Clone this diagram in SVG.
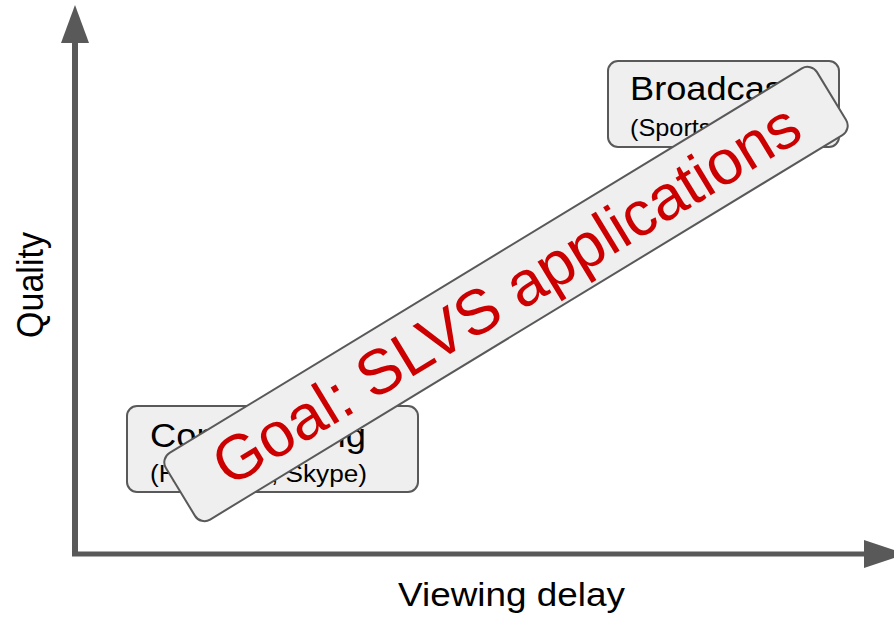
<svg xmlns="http://www.w3.org/2000/svg" width="894" height="617" viewBox="0 0 894 617">
<style>
.box{fill:#efefef;stroke:#595959;stroke-width:2}
.axis{stroke:#595959;fill:none}
.head{fill:#595959}
text{font-family:"Liberation Sans",Arial,sans-serif;fill:#000}
.big{font-size:33px}
.small{font-size:23px}
.goal{font-size:63px;fill:#cc0000}
</style>
<rect width="894" height="617" fill="#ffffff"/>
<g id="axes">
<line class="axis" x1="75" y1="556" x2="75" y2="40" stroke-width="6"/>
<polygon class="head" points="75,5 61,43 89,43"/>
<line class="axis" x1="72" y1="554" x2="866" y2="554" stroke-width="5"/>
<polygon class="head" points="864,540 864,568 906,554"/>
</g>
<g id="label-quality">
<text class="big" transform="translate(43,285) scale(1.1,1) rotate(-90)" text-anchor="middle" style="font-size:34px">Quality</text>
</g>
<g id="label-delay">
<text class="big" x="398" y="606" textLength="227" lengthAdjust="spacingAndGlyphs">Viewing delay</text>
</g>
<g id="conferencing">
<rect class="box" x="127" y="406" width="291" height="86" rx="10"/>
<text class="big" x="150" y="447" textLength="216" lengthAdjust="spacingAndGlyphs">Conferencing</text>
<text class="small" x="150" y="482" textLength="217" lengthAdjust="spacingAndGlyphs">(Hangouts, Skype)</text>
</g>
<g id="broadcast">
<rect class="box" x="608" y="61" width="231" height="86" rx="10"/>
<text class="big" x="630" y="100" textLength="163" lengthAdjust="spacingAndGlyphs">Broadcast</text>
<text class="small" transform="translate(630,136) scale(1.1,1)">(Sports, TV)</text>
</g>
<g id="goal" transform="translate(506,294) rotate(-31.3)">
<rect class="box" x="-381" y="-39" width="762" height="78" rx="11"/>
<text class="goal" x="0" y="22" text-anchor="middle">Goal: SLVS applications</text>
</g>
</svg>
